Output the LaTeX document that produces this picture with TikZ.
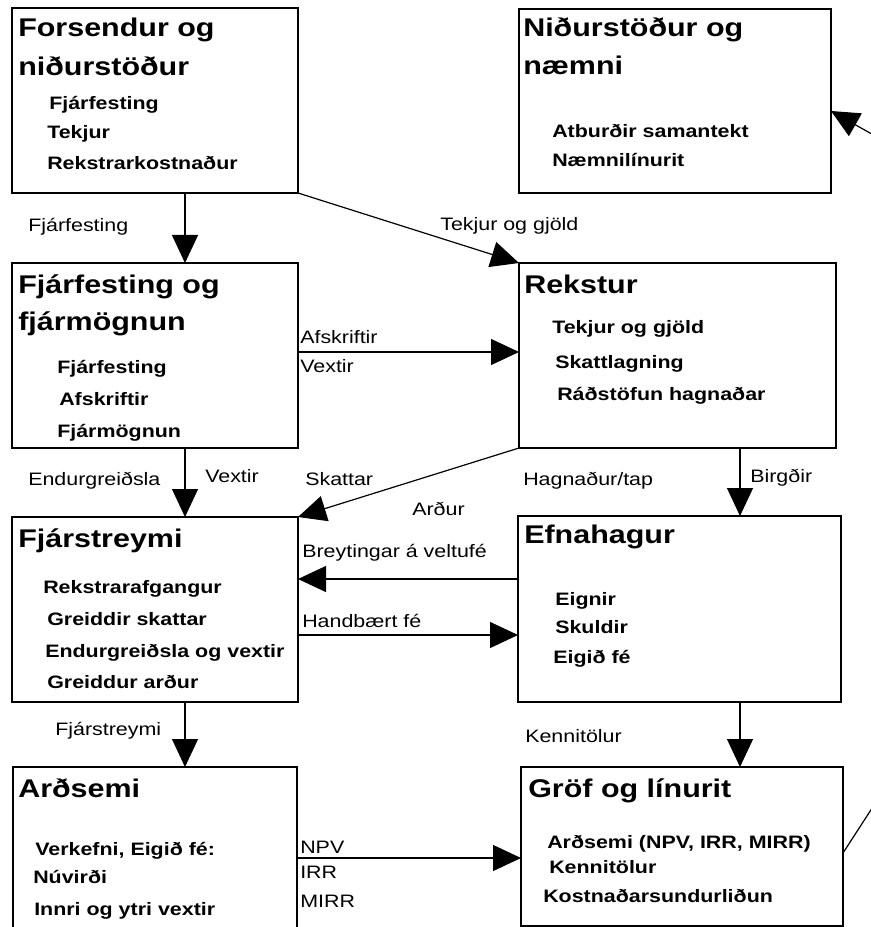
\documentclass[tikz,border=0pt]{standalone}
\usepackage{fontspec}
\setmainfont{Liberation Sans}[FakeStretch=1.19]
\usetikzlibrary{arrows.meta}
\newdimen\pxu \pxu=0.75pt

\tikzset{
  box/.style={draw, line width=1pt, inner sep=0pt, outer sep=0pt, anchor=north west},
  head/.style={anchor=base west, inner sep=0pt, font=\fontsize{19.2}{23}\selectfont\bfseries},
  item/.style={anchor=base west, inner sep=0pt, font=\fontsize{13.5}{16}\selectfont\bfseries},
  lab/.style={anchor=base west, inner sep=0pt, font=\fontsize{13.5}{16}\selectfont},
  arr/.style={line width=0.9pt, -{Triangle[length=21pt, width=19.5pt]}}
}

\begin{document}
\begin{tikzpicture}[x=0.75pt, y=-0.75pt]
  \useasboundingbox (0,0) rectangle (870,927);
  % boxes
  \node[box, minimum width=286\pxu, minimum height=185\pxu] (forsendur) at (12,8) {};
  \node[box, minimum width=312\pxu, minimum height=184\pxu] (nidurstodur) at (519,9) {};
  \node[box, minimum width=286\pxu, minimum height=185\pxu] (fjarfesting) at (12,263) {};
  \node[box, minimum width=317\pxu, minimum height=185\pxu] (rekstur) at (519,263) {};
  \node[box, minimum width=286\pxu, minimum height=185\pxu] (fjarstreymi) at (12,517) {};
  \node[box, minimum width=323\pxu, minimum height=186\pxu] (efnahagur) at (518,516) {};
  \node[box, minimum width=284\pxu, minimum height=190\pxu] (ardsemi) at (13,767) {};
  \node[box, minimum width=322\pxu, minimum height=159\pxu] (grof) at (521,767) {};

  % headings
  \node[head] (forsendur-h1) at (18,37) {Forsendur og};
  \node[head] (forsendur-h2) at (18,76) {niðurstöður};
  \node[head] (nidurstodur-h1) at (523,37) {Niðurstöður og};
  \node[head] (nidurstodur-h2) at (523,75) {næmni};
  \node[head] (fjarfesting-h1) at (18,293) {Fjárfesting og};
  \node[head] (fjarfesting-h2) at (18,330) {fjármögnun};
  \node[head] (rekstur-h1) at (524,293) {Rekstur};
  \node[head] (fjarstreymi-h1) at (18,547) {Fjárstreymi};
  \node[head] (efnahagur-h1) at (524,543) {Efnahagur};
  \node[head] (ardsemi-h1) at (18,797) {Arðsemi};
  \node[head] (grof-h1) at (528,797) {Gröf og línurit};

  % items
  \foreach \x/\y/\t [count=\i] in {49/110/Fjárfesting, 47/139/Tekjur, 47/170/Rekstrarkostnaður}
    \node[item] (forsendur-\i) at (\x,\y) {\t};
  \foreach \x/\y/\t [count=\i] in {552/138/Atburðir samantekt, 552/167/Næmnilínurit}
    \node[item] (nidurstodur-\i) at (\x,\y) {\t};
  \foreach \x/\y/\t [count=\i] in {57/373/Fjárfesting, 59/405/Afskriftir, 57/437/Fjármögnun}
    \node[item] (fjarfesting-\i) at (\x,\y) {\t};
  \foreach \x/\y/\t [count=\i] in {552/333/Tekjur og gjöld, 555/368/Skattlagning, 557/400/Ráðstöfun hagnaðar}
    \node[item] (rekstur-\i) at (\x,\y) {\t};
  \foreach \x/\y/\t [count=\i] in {43/593/Rekstrarafgangur, 47/625/Greiddir skattar, 45/657/Endurgreiðsla og vextir, 47/688/Greiddur arður}
    \node[item] (fjarstreymi-\i) at (\x,\y) {\t};
  \foreach \x/\y/\t [count=\i] in {555/605/Eignir, 555/633/Skuldir, 553/663/Eigið fé}
    \node[item] (efnahagur-\i) at (\x,\y) {\t};
  \foreach \x/\y/\t [count=\i] in {35/855/{Verkefni, Eigið fé:}, 33/883/Núvirði, 34/915/Innri og ytri vextir}
    \node[item] (ardsemi-\i) at (\x,\y) {\t};
  \foreach \x/\y/\t [count=\i] in {547/848/{Arðsemi (NPV, IRR, MIRR)}, 549/873/Kennitölur, 543/902/Kostnaðarsundurliðun}
    \node[item] (grof-\i) at (\x,\y) {\t};

  % connector labels
  \node[lab] (l-fjarfesting) at (28,232) {Fjárfesting};
  \node[lab] (l-tekjur) at (440,230) {Tekjur og gjöld};
  \node[lab] (l-afskriftir) at (300,343) {Afskriftir};
  \node[lab] (l-vextir1) at (300,372) {Vextir};
  \node[lab] (l-endurgr) at (28,485) {Endurgreiðsla};
  \node[lab] (l-vextir2) at (205,482) {Vextir};
  \node[lab] (l-skattar) at (305,485) {Skattar};
  \node[lab] (l-ardur) at (412,515) {Arður};
  \node[lab] (l-hagnadur) at (523,485) {Hagnaður/tap};
  \node[lab] (l-birgdir) at (750,482) {Birgðir};
  \node[lab] (l-veltufe) at (302,557) {Breytingar á veltufé};
  \node[lab] (l-handbaert) at (302,627) {Handbært fé};
  \node[lab] (l-fjarstreymi) at (55,735) {Fjárstreymi};
  \node[lab] (l-kennitolur) at (525,742) {Kennitölur};
  \node[lab] (l-npv) at (300,853) {NPV};
  \node[lab] (l-irr) at (300,878) {IRR};
  \node[lab] (l-mirr) at (300,907) {MIRR};

  % connectors
  \coordinate (lcol) at (185,0);
  \coordinate (rcol) at (740,0);
  \draw[arr] (forsendur.south -| lcol) -- (fjarfesting.north -| lcol);
  \draw[arr] (fjarfesting.south -| lcol) -- (fjarstreymi.north -| lcol);
  \draw[arr] (fjarstreymi.south -| lcol) -- (ardsemi.north -| lcol);
  \draw[arr] (rekstur.south -| rcol) -- (efnahagur.north -| rcol);
  \draw[arr] (efnahagur.south -| rcol) -- (grof.north -| rcol);
  \draw[arr] (forsendur.south east) -- (rekstur.north west);
  \draw[arr] (rekstur.south west) -- (fjarstreymi.north east);
  \draw[arr] (fjarfesting.east |- 0,352) -- (rekstur.west |- 0,352);
  \draw[arr] (efnahagur.west |- 0,579) -- (fjarstreymi.east |- 0,579);
  \draw[arr] (fjarstreymi.east |- 0,635) -- (efnahagur.west |- 0,635);
  \draw[arr] (ardsemi.east |- 0,858) -- (grof.west |- 0,858);
  \draw[arr] (grof.east |- 0,853) -- (900,765) -- (900,150) -- (nidurstodur.east |- 0,111);
\end{tikzpicture}
\end{document}
